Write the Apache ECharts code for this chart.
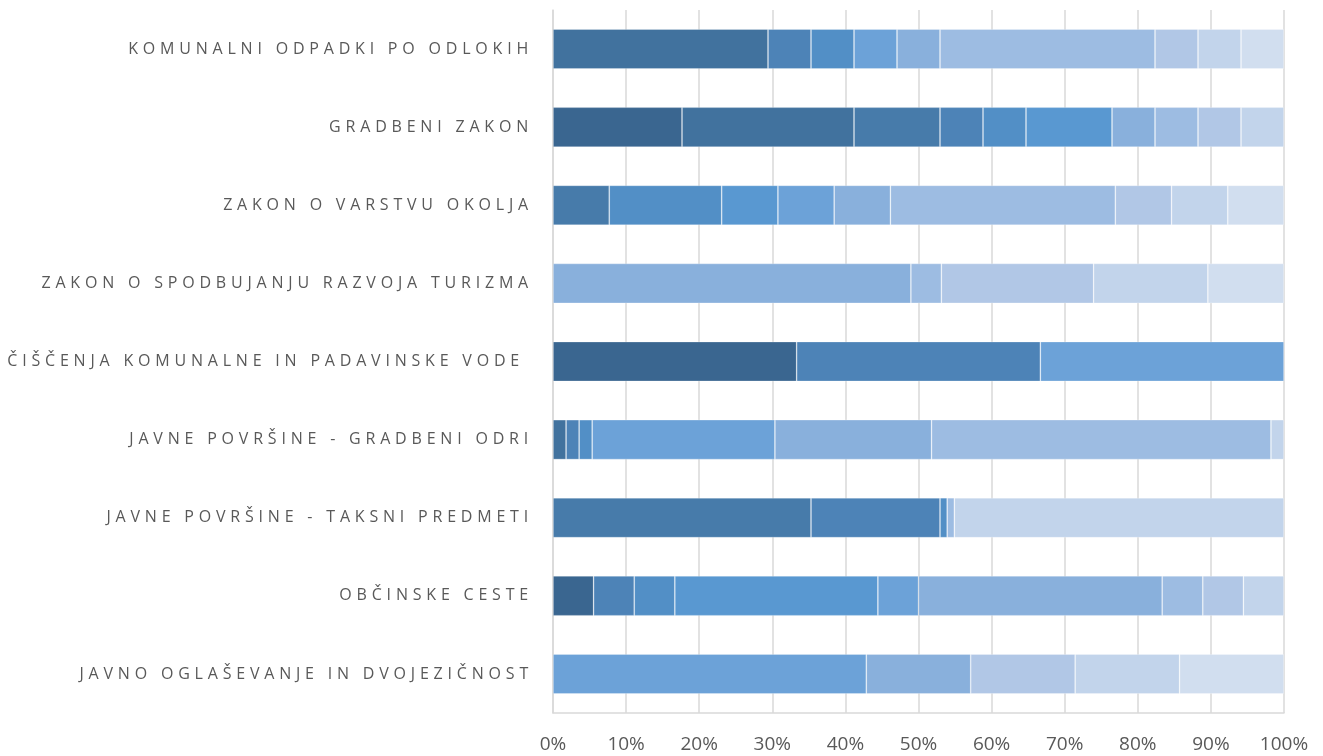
<!DOCTYPE html>
<html>
<head>
<meta charset="utf-8">
<script src="https://cdn.jsdelivr.net/npm/echarts@6/dist/echarts.min.js"></script>
<style>
html,body{margin:0;padding:0;background:#fff;}
#chart{width:1323px;height:756px;}
</style>
</head>
<body>
<div id="chart"></div>
<script>
// Categories, top to bottom
const categories = [
  'KOMUNALNI ODPADKI PO ODLOKIH',
  'GRADBENI ZAKON',
  'ZAKON O VARSTVU OKOLJA',
  'ZAKON O SPODBUJANJU RAZVOJA TURIZMA',
  'ČIŠČENJA KOMUNALNE IN PADAVINSKE VODE ',
  'JAVNE POVRŠINE - GRADBENI ODRI',
  'JAVNE POVRŠINE - TAKSNI PREDMETI',
  'OBČINSKE CESTE',
  'JAVNO OGLAŠEVANJE IN DVOJEZIČNOST'
];
// Series values (counts per category, shown as share of the row)
const s1  = [0, 3, 0, 0, 1, 0, 0, 1, 0];
const s2  = [5, 4, 0, 0, 0, 1, 0, 0, 0];
const s3  = [0, 2, 1, 0, 0, 0, 36, 0, 0];
const s4  = [1, 1, 0, 0, 1, 1, 18, 1, 0];
const s5  = [1, 1, 2, 0, 0, 1, 1, 1, 0];
const s6  = [0, 2, 1, 0, 0, 0, 0, 5, 0];
const s7  = [1, 0, 1, 0, 1, 14, 0, 1, 3];
const s8  = [1, 1, 1, 47, 0, 12, 0, 6, 1];
const s9  = [5, 1, 4, 4, 0, 26, 1, 1, 0];
const s10 = [1, 1, 1, 20, 0, 0, 0, 1, 1];
const s11 = [1, 1, 1, 15, 0, 1, 46, 1, 1];
const s12 = [1, 0, 1, 10, 0, 0, 0, 0, 1];
const seriesNames = ['1','2','3','4','5','6','7','8','9','10','11','12'];
const xTicks = [0, 10, 20, 30, 40, 50, 60, 70, 80, 90, 100];

const allSeries = [s1,s2,s3,s4,s5,s6,s7,s8,s9,s10,s11,s12];
const colors = ['#3A6690','#41729E','#477BAA','#4D83B7','#528FC6','#5998D1',
                '#6CA2D8','#89B0DC','#9DBCE2','#B1C7E6','#C2D4EB','#D1DEEF'];

// letter spacing for category labels only (font marker 16px)
(function(){
  const proto = CanvasRenderingContext2D.prototype;
  const orig = proto.fillText;
  proto.fillText = function(t, x, y, m){
    const spaced = /(^|\s)16px/.test(this.font);
    if ('letterSpacing' in this) {
      const f = this.font;
      this.letterSpacing = spaced ? '4.8px' : '0px';
      this.font = f;
    }
    if (m === undefined) orig.call(this, t, x, y); else orig.call(this, t, x, y, m);
    if ('letterSpacing' in this && spaced) {
      const f = this.font;
      this.letterSpacing = '0px';
      this.font = f;
    }
  };
})();

const totals = categories.map((c, i) => allSeries.reduce((a, s) => a + s[i], 0));

const chart = echarts.init(document.getElementById('chart'), null, {renderer: 'canvas'});
chart.setOption({
  animation: false,
  backgroundColor: '#ffffff',
  grid: {left: 553, right: 39, top: 10, bottom: 43, containLabel: false},
  xAxis: {
    type: 'value', min: xTicks[0], max: xTicks[xTicks.length - 1], interval: 10,
    axisLine: {show: true, lineStyle: {color: '#D9D9D9', width: 1.5}},
    axisTick: {show: false},
    splitLine: {show: true, lineStyle: {color: '#D9D9D9', width: 1.5}},
    axisLabel: {formatter: '{value}%', color: '#595959', fontSize: 19,
      fontFamily: 'Open Sans', margin: 22}
  },
  yAxis: {
    type: 'category', data: categories, inverse: true,
    axisLine: {show: true, lineStyle: {color: '#D9D9D9', width: 1.5}},
    axisTick: {show: false},
    axisLabel: {color: '#595959', fontSize: 16, fontFamily: 'Open Sans', margin: 20}
  },
  series: allSeries.map((s, k) => ({
    name: seriesNames[k],
    type: 'bar',
    stack: 'total',
    barCategoryGap: '49%',
    itemStyle: {color: colors[k], borderColor: 'rgba(255,255,255,0.35)', borderWidth: 0.75},
    data: s.map((v, i) => v ? v / totals[i] * 100 : null)
  }))
});
</script>
</body>
</html>
